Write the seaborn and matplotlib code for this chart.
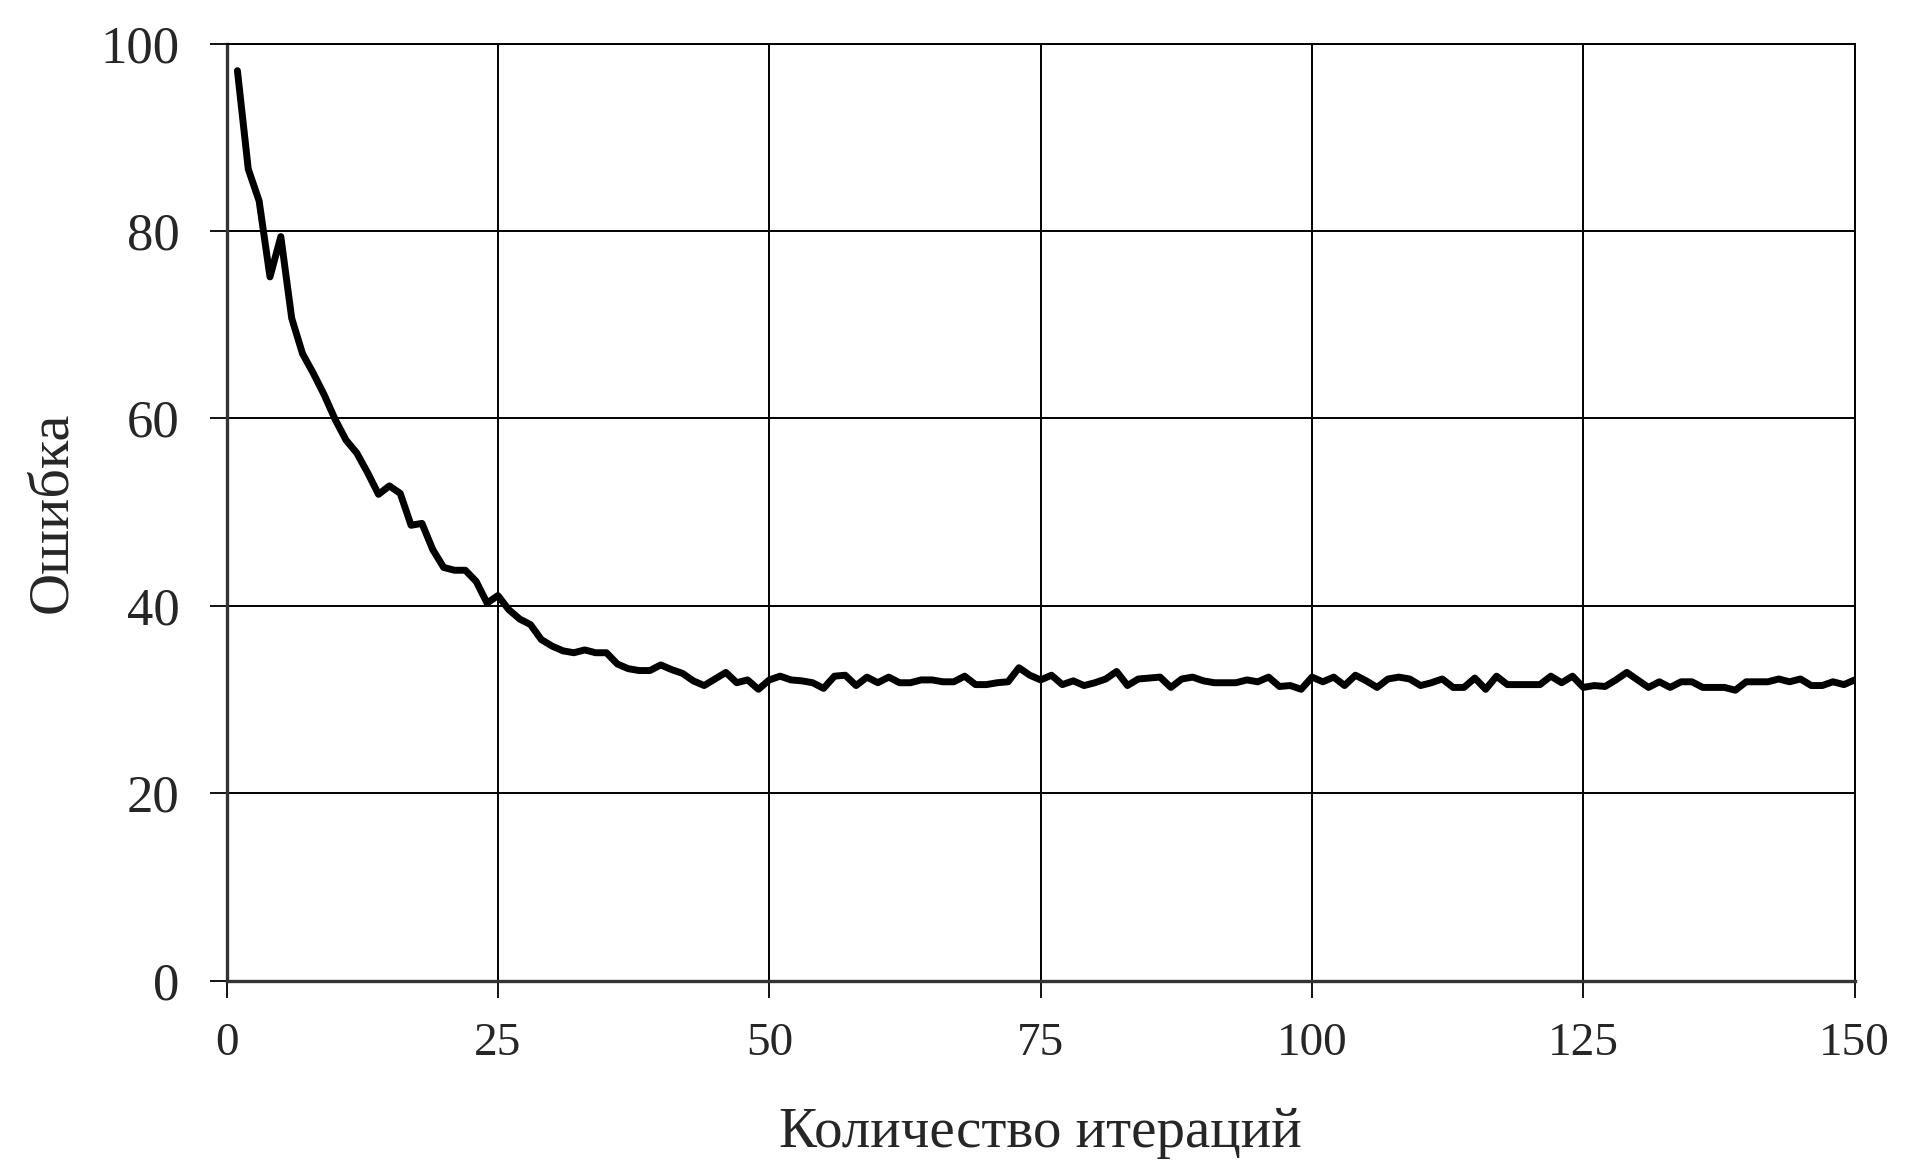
import numpy as np
import pandas as pd
import seaborn as sns
import matplotlib.pyplot as plt

# Error per iteration.
iterations = list(range(1, 151))
error = [
    97.1, 86.6, 83.2, 75.1, 79.4, 70.7, 66.9, 64.8, 62.5, 59.9,
    57.7, 56.3, 54.2, 51.9, 52.8, 52.0, 48.6, 48.8, 46.0, 44.1,
    43.8, 43.8, 42.6, 40.3, 41.1, 39.6, 38.6, 38.0, 36.4, 35.7,
    35.2, 35.0, 35.3, 35.0, 35.0, 33.8, 33.3, 33.1, 33.1, 33.7,
    33.2, 32.8, 32.0, 31.5, 32.2, 32.9, 31.8, 32.1, 31.1, 32.1,
    32.5, 32.1, 32.0, 31.8, 31.2, 32.5, 32.6, 31.5, 32.4, 31.8,
    32.4, 31.8, 31.8, 32.1, 32.1, 31.9, 31.9, 32.5, 31.6, 31.6,
    31.8, 31.9, 33.4, 32.6, 32.1, 32.6, 31.6, 32.0, 31.5, 31.8,
    32.2, 33.0, 31.5, 32.2, 32.3, 32.4, 31.3, 32.2, 32.4, 32.0,
    31.8, 31.8, 31.8, 32.1, 31.9, 32.4, 31.4, 31.5, 31.1, 32.4,
    31.9, 32.4, 31.5, 32.6, 32.0, 31.3, 32.2, 32.4, 32.2, 31.5,
    31.8, 32.2, 31.3, 31.3, 32.3, 31.1, 32.5, 31.6, 31.6, 31.6,
    31.6, 32.5, 31.8, 32.5, 31.3, 31.5, 31.4, 32.1, 32.9, 32.1,
    31.3, 31.9, 31.3, 31.9, 31.9, 31.3, 31.3, 31.3, 31.0, 31.9,
    31.9, 31.9, 32.2, 31.9, 32.2, 31.5, 31.5, 31.9, 31.6, 32.1,
]
x_ticks = [0, 25, 50, 75, 100, 125, 150]
y_ticks = [0, 20, 40, 60, 80, 100]

df = pd.DataFrame({'iteration': iterations, 'error': error})

sns.set_style('white')
plt.rcParams['font.family'] = ['Liberation Serif', 'DejaVu Serif']

fig = plt.figure(figsize=(19.2, 11.76), dpi=100)
ax = fig.add_axes([0.118, 0.166, 0.848, 0.797])

sns.lineplot(data=df, x='iteration', y='error', color='black', linewidth=5, ax=ax)

ax.set_xlim(0, 150)
ax.set_ylim(0, 100)
ax.set_xticks(x_ticks)
ax.set_yticks(y_ticks)
ax.grid(True, color='black', linewidth=1.4)

for side in ['top', 'right']:
    ax.spines[side].set_linewidth(1.4)
    ax.spines[side].set_color('black')
for side in ['left', 'bottom']:
    ax.spines[side].set_linewidth(2.4)
    ax.spines[side].set_color('#333333')

ax.tick_params(axis='y', direction='out', length=12, width=1.3, color='black',
               labelsize=38, pad=22, left=True)
ax.tick_params(axis='x', direction='out', length=12, width=1.3, color='black',
               labelsize=34, pad=18, bottom=True)

ax.set_xlabel('Количество итераций', fontsize=41, labelpad=30)
ax.set_ylabel('Ошибка', fontsize=42, labelpad=16)

fig.savefig('out.png', dpi=100, facecolor='white')
